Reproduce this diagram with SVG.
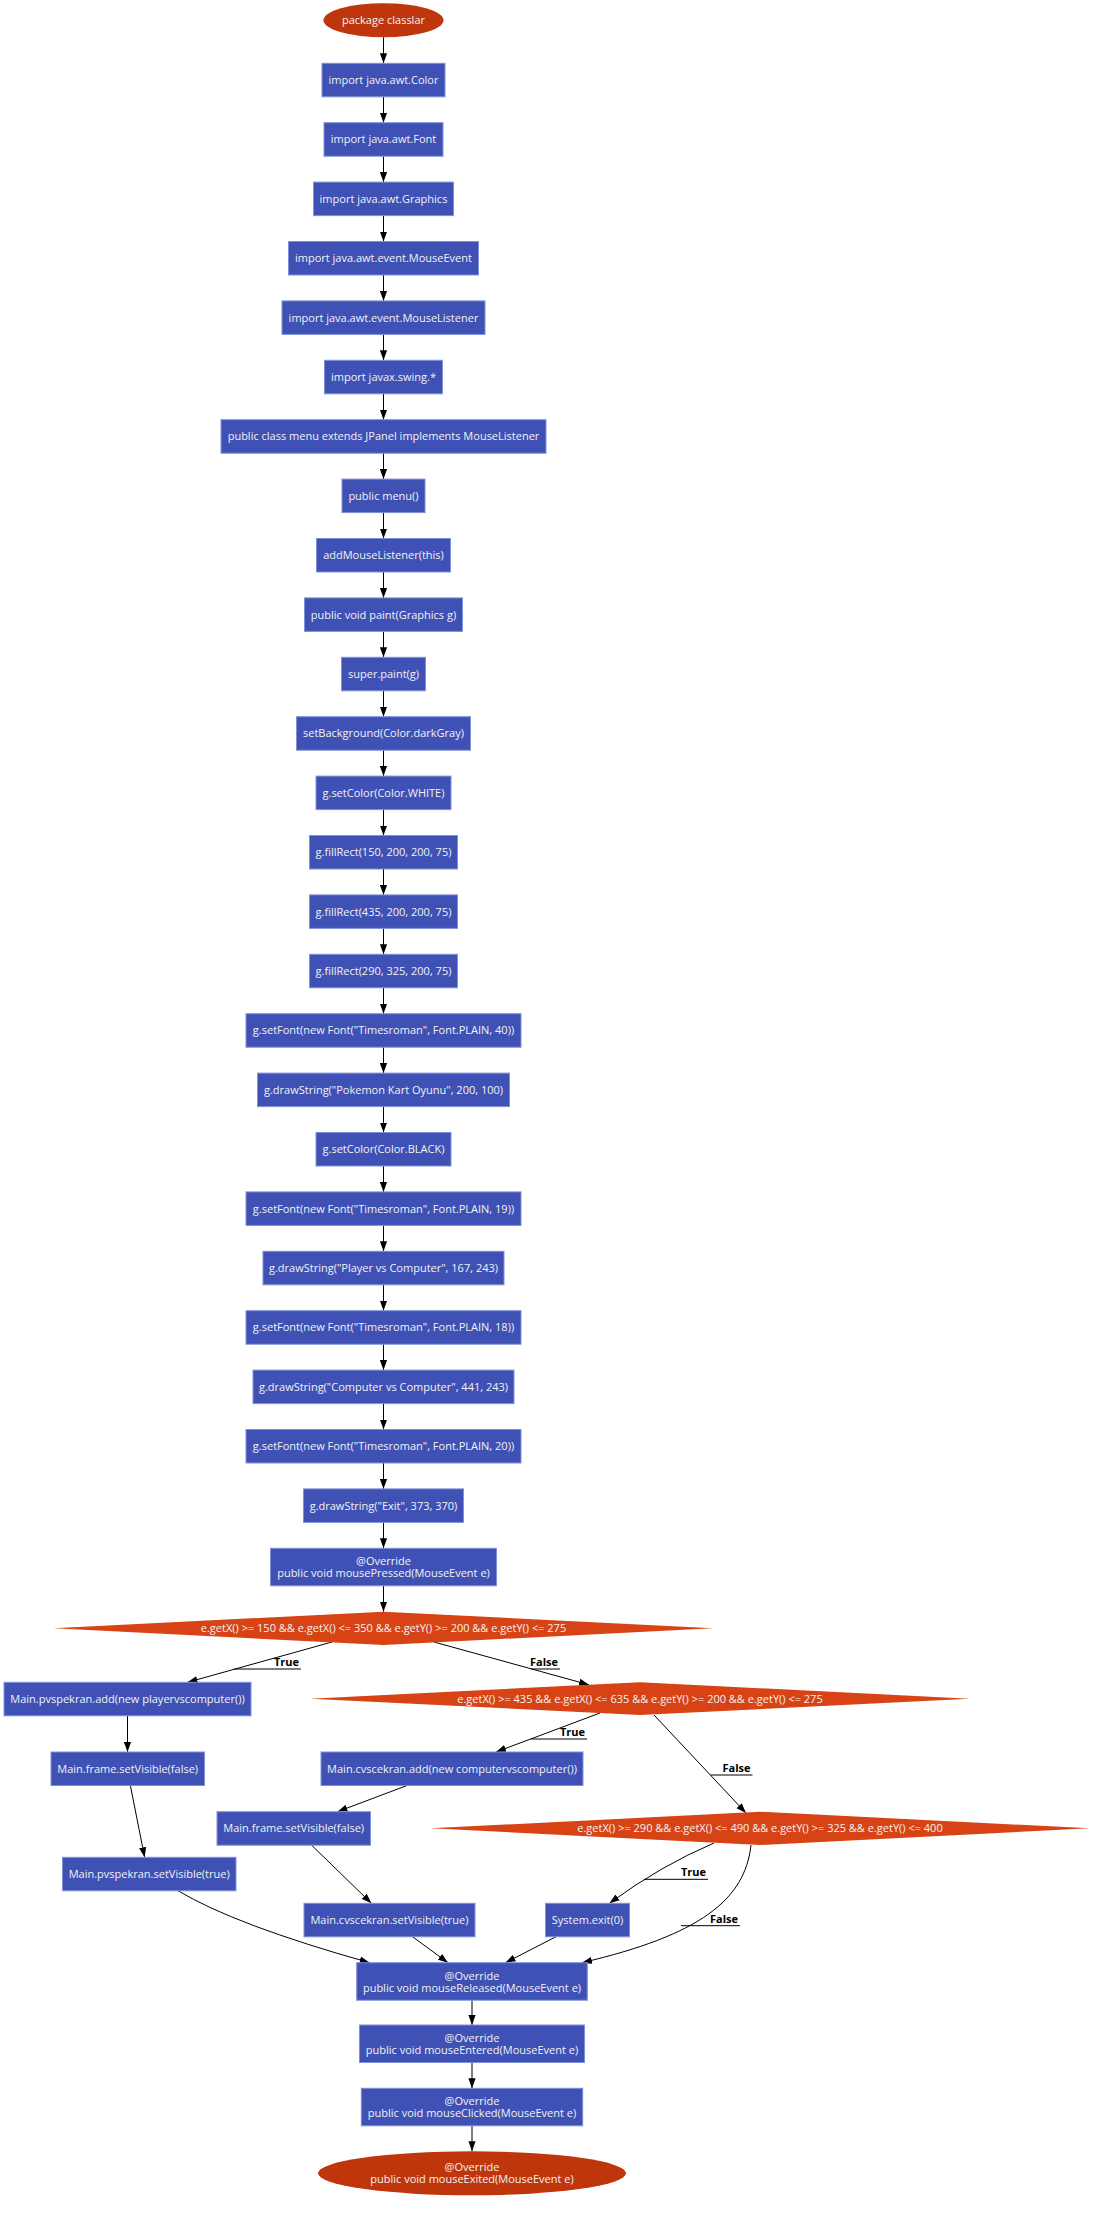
<svg xmlns="http://www.w3.org/2000/svg" width="1108" height="2214" viewBox="0 0 1108 2214">
<style>
.box{fill:#3F51B5;stroke:#8090d8;stroke-width:1}
.term{fill:#BF360C}
.dec{fill:#D84315}
.t{font-family:"Open Sans","Noto Sans",sans-serif;font-size:11px;fill:#f2f2f2;text-anchor:middle}
.lbl{font-family:"Open Sans","Noto Sans",sans-serif;font-size:11px;font-weight:bold;fill:#000;text-anchor:end}
.e{fill:none;stroke:#000;stroke-width:1}
.u{fill:none;stroke:#000;stroke-width:1}
</style>
<defs>
<marker id="arr" markerUnits="userSpaceOnUse" markerWidth="10" markerHeight="8" refX="10" refY="4" orient="auto">
<path d="M0,0.4 L10,4 L0,7.6 z" fill="#000"/>
</marker>
</defs>
<rect width="1108" height="2214" fill="#fff"/>
<g id="connectors">
<path class="e" marker-end="url(#arr)" d="M383.5,37.3 V63.3"/>
<path class="e" marker-end="url(#arr)" d="M383.5,96.8 V122.7"/>
<path class="e" marker-end="url(#arr)" d="M383.5,156.2 V182.1"/>
<path class="e" marker-end="url(#arr)" d="M383.5,215.6 V241.5"/>
<path class="e" marker-end="url(#arr)" d="M383.5,275 V300.9"/>
<path class="e" marker-end="url(#arr)" d="M383.5,334.4 V360.3"/>
<path class="e" marker-end="url(#arr)" d="M383.5,393.8 V419.7"/>
<path class="e" marker-end="url(#arr)" d="M383.5,453.2 V479.1"/>
<path class="e" marker-end="url(#arr)" d="M383.5,512.6 V538.5"/>
<path class="e" marker-end="url(#arr)" d="M383.5,572 V597.9"/>
<path class="e" marker-end="url(#arr)" d="M383.5,631.4 V657.3"/>
<path class="e" marker-end="url(#arr)" d="M383.5,690.8 V716.7"/>
<path class="e" marker-end="url(#arr)" d="M383.5,750.2 V776.1"/>
<path class="e" marker-end="url(#arr)" d="M383.5,809.6 V835.5"/>
<path class="e" marker-end="url(#arr)" d="M383.5,869 V894.9"/>
<path class="e" marker-end="url(#arr)" d="M383.5,928.4 V954.3"/>
<path class="e" marker-end="url(#arr)" d="M383.5,987.8 V1013.7"/>
<path class="e" marker-end="url(#arr)" d="M383.5,1047.2 V1073.1"/>
<path class="e" marker-end="url(#arr)" d="M383.5,1106.6 V1132.5"/>
<path class="e" marker-end="url(#arr)" d="M383.5,1166 V1191.9"/>
<path class="e" marker-end="url(#arr)" d="M383.5,1225.4 V1251.3"/>
<path class="e" marker-end="url(#arr)" d="M383.5,1284.8 V1310.7"/>
<path class="e" marker-end="url(#arr)" d="M383.5,1344.2 V1370.1"/>
<path class="e" marker-end="url(#arr)" d="M383.5,1403.6 V1429.5"/>
<path class="e" marker-end="url(#arr)" d="M383.5,1463 V1488.9"/>
<path class="e" marker-end="url(#arr)" d="M383.5,1522.4 V1548.3"/>
<path class="e" marker-end="url(#arr)" d="M383.5,1585.8 V1611.7"/>
<path class="e" marker-end="url(#arr)" d="M332,1642 L187.5,1682.3"/>
<path class="e" marker-end="url(#arr)" d="M434,1642 L589,1684.8"/>
<path class="e" marker-end="url(#arr)" d="M600,1713 L496,1752"/>
<path class="e" marker-end="url(#arr)" d="M654,1715 L746,1813"/>
<path class="e" marker-end="url(#arr)" d="M407,1785.5 L337.5,1811.7"/>
<path class="e" marker-end="url(#arr)" d="M127.5,1715.7 V1752"/>
<path class="e" marker-end="url(#arr)" d="M130.4,1785.5 L144.6,1857.3"/>
<path class="e" marker-end="url(#arr)" d="M311.4,1845 L371.4,1903.3"/>
<path class="e" marker-end="url(#arr)" d="M714,1843 Q660,1866 609.5,1903.3"/>
<path class="e" marker-end="url(#arr)" d="M751,1845 C745,1900 700,1935 582,1962.7"/>
<path class="e" marker-end="url(#arr)" d="M556,1936.7 L505.5,1962.7"/>
<path class="e" marker-end="url(#arr)" d="M412.5,1936.7 L448,1962.7"/>
<path class="e" marker-end="url(#arr)" d="M178,1890.7 Q235,1925 369.6,1962.7"/>
<path class="e" marker-end="url(#arr)" d="M472,2000.2 V2025"/>
<path class="e" marker-end="url(#arr)" d="M472,2062.5 V2088.3"/>
<path class="e" marker-end="url(#arr)" d="M472,2125.8 V2151.3"/>
<path class="u" d="M234,1669 H301"/><text class="lbl" x="299" y="1666">True</text>
<path class="u" d="M531,1669 H560"/><text class="lbl" x="558" y="1666">False</text>
<path class="u" d="M531,1739 H587"/><text class="lbl" x="585" y="1736">True</text>
<path class="u" d="M710.5,1775 H752.5"/><text class="lbl" x="750.5" y="1772">False</text>
<path class="u" d="M644,1879.3 H708"/><text class="lbl" x="706" y="1876">True</text>
<path class="u" d="M681,1925.7 H740"/><text class="lbl" x="738" y="1922.5">False</text>
</g>
<g id="n0"><ellipse class="term" cx="383.5" cy="20.3" rx="60" ry="17"/><text class="t" x="383.5" y="24.3">package classlar</text></g>
<g id="n1"><rect class="box" x="322" y="63.3" width="123" height="33.5"/><text class="t" x="383.5" y="84">import java.awt.Color</text></g>
<g id="n2"><rect class="box" x="324" y="122.7" width="119" height="33.5"/><text class="t" x="383.5" y="143.4">import java.awt.Font</text></g>
<g id="n3"><rect class="box" x="313.5" y="182.1" width="140" height="33.5"/><text class="t" x="383.5" y="202.8">import java.awt.Graphics</text></g>
<g id="n4"><rect class="box" x="288.5" y="241.5" width="190" height="33.5"/><text class="t" x="383.5" y="262.2">import java.awt.event.MouseEvent</text></g>
<g id="n5"><rect class="box" x="282" y="300.9" width="203" height="33.5"/><text class="t" x="383.5" y="321.6">import java.awt.event.MouseListener</text></g>
<g id="n6"><rect class="box" x="324.5" y="360.3" width="118" height="33.5"/><text class="t" x="383.5" y="381">import javax.swing.*</text></g>
<g id="n7"><rect class="box" x="221" y="419.7" width="325" height="33.5"/><text class="t" x="383.5" y="440.4">public class menu extends JPanel implements MouseListener</text></g>
<g id="n8"><rect class="box" x="342" y="479.1" width="83" height="33.5"/><text class="t" x="383.5" y="499.8">public menu()</text></g>
<g id="n9"><rect class="box" x="316.5" y="538.5" width="134" height="33.5"/><text class="t" x="383.5" y="559.2">addMouseListener(this)</text></g>
<g id="n10"><rect class="box" x="304.5" y="597.9" width="158" height="33.5"/><text class="t" x="383.5" y="618.6">public void paint(Graphics g)</text></g>
<g id="n11"><rect class="box" x="341.5" y="657.3" width="84" height="33.5"/><text class="t" x="383.5" y="678">super.paint(g)</text></g>
<g id="n12"><rect class="box" x="296.5" y="716.7" width="174" height="33.5"/><text class="t" x="383.5" y="737.4">setBackground(Color.darkGray)</text></g>
<g id="n13"><rect class="box" x="316" y="776.1" width="135" height="33.5"/><text class="t" x="383.5" y="796.8">g.setColor(Color.WHITE)</text></g>
<g id="n14"><rect class="box" x="309.5" y="835.5" width="148" height="33.5"/><text class="t" x="383.5" y="856.2">g.fillRect(150, 200, 200, 75)</text></g>
<g id="n15"><rect class="box" x="309.5" y="894.9" width="148" height="33.5"/><text class="t" x="383.5" y="915.6">g.fillRect(435, 200, 200, 75)</text></g>
<g id="n16"><rect class="box" x="309.5" y="954.3" width="148" height="33.5"/><text class="t" x="383.5" y="975">g.fillRect(290, 325, 200, 75)</text></g>
<g id="n17"><rect class="box" x="246" y="1013.7" width="275" height="33.5"/><text class="t" x="383.5" y="1034.4">g.setFont(new Font("Timesroman", Font.PLAIN, 40))</text></g>
<g id="n18"><rect class="box" x="257.5" y="1073.1" width="252" height="33.5"/><text class="t" x="383.5" y="1093.8">g.drawString("Pokemon Kart Oyunu", 200, 100)</text></g>
<g id="n19"><rect class="box" x="316" y="1132.5" width="135" height="33.5"/><text class="t" x="383.5" y="1153.2">g.setColor(Color.BLACK)</text></g>
<g id="n20"><rect class="box" x="246" y="1191.9" width="275" height="33.5"/><text class="t" x="383.5" y="1212.6">g.setFont(new Font("Timesroman", Font.PLAIN, 19))</text></g>
<g id="n21"><rect class="box" x="263" y="1251.3" width="241" height="33.5"/><text class="t" x="383.5" y="1272">g.drawString("Player vs Computer", 167, 243)</text></g>
<g id="n22"><rect class="box" x="246" y="1310.7" width="275" height="33.5"/><text class="t" x="383.5" y="1331.4">g.setFont(new Font("Timesroman", Font.PLAIN, 18))</text></g>
<g id="n23"><rect class="box" x="253" y="1370.1" width="261" height="33.5"/><text class="t" x="383.5" y="1390.8">g.drawString("Computer vs Computer", 441, 243)</text></g>
<g id="n24"><rect class="box" x="246" y="1429.5" width="275" height="33.5"/><text class="t" x="383.5" y="1450.2">g.setFont(new Font("Timesroman", Font.PLAIN, 20))</text></g>
<g id="n25"><rect class="box" x="303.5" y="1488.9" width="160" height="33.5"/><text class="t" x="383.5" y="1509.6">g.drawString("Exit", 373, 370)</text></g>
<g id="n26"><rect class="box" x="270.5" y="1548.3" width="226" height="37.5"/><text class="t" x="383.5" y="1565">@Override</text><text class="t" x="383.5" y="1577">public void mousePressed(MouseEvent e)</text></g>
<g id="d1"><polygon class="dec" points="53.7,1628.3 383.5,1611.7 713,1628.3 383.5,1645"/><text class="t" x="383.5" y="1632.3">e.getX() &gt;= 150 &amp;&amp; e.getX() &lt;= 350 &amp;&amp; e.getY() &gt;= 200 &amp;&amp; e.getY() &lt;= 275</text></g>
<g id="n27"><rect class="box" x="4" y="1682.3" width="247" height="33.5"/><text class="t" x="127.5" y="1703">Main.pvspekran.add(new playervscomputer())</text></g>
<g id="d2"><polygon class="dec" points="310,1698.7 640,1682.3 970,1698.7 640,1715"/><text class="t" x="640" y="1702.7">e.getX() &gt;= 435 &amp;&amp; e.getX() &lt;= 635 &amp;&amp; e.getY() &gt;= 200 &amp;&amp; e.getY() &lt;= 275</text></g>
<g id="n28"><rect class="box" x="51" y="1752" width="153.5" height="33.5"/><text class="t" x="127.7" y="1772.7">Main.frame.setVisible(false)</text></g>
<g id="n29"><rect class="box" x="321" y="1752" width="262" height="33.5"/><text class="t" x="452" y="1772.7">Main.cvscekran.add(new computervscomputer())</text></g>
<g id="n30"><rect class="box" x="217" y="1811.7" width="153.5" height="33.5"/><text class="t" x="293.7" y="1832.4">Main.frame.setVisible(false)</text></g>
<g id="d3"><polygon class="dec" points="430.3,1828.3 760,1811.7 1089.7,1828.3 760,1845"/><text class="t" x="760" y="1832.3">e.getX() &gt;= 290 &amp;&amp; e.getX() &lt;= 490 &amp;&amp; e.getY() &gt;= 325 &amp;&amp; e.getY() &lt;= 400</text></g>
<g id="n31"><rect class="box" x="62.5" y="1857.3" width="173.5" height="33.5"/><text class="t" x="149.2" y="1878">Main.pvspekran.setVisible(true)</text></g>
<g id="n32"><rect class="box" x="304" y="1903.3" width="171" height="33.5"/><text class="t" x="389.5" y="1924">Main.cvscekran.setVisible(true)</text></g>
<g id="n33"><rect class="box" x="545.5" y="1903.3" width="84" height="33.5"/><text class="t" x="587.5" y="1924">System.exit(0)</text></g>
<g id="n34"><rect class="box" x="356.7" y="1962.7" width="230.6" height="37.5"/><text class="t" x="472" y="1979.5">@Override</text><text class="t" x="472" y="1991.5">public void mouseReleased(MouseEvent e)</text></g>
<g id="n35"><rect class="box" x="359.5" y="2025" width="225" height="37.5"/><text class="t" x="472" y="2041.8">@Override</text><text class="t" x="472" y="2053.8">public void mouseEntered(MouseEvent e)</text></g>
<g id="n36"><rect class="box" x="361.3" y="2088.3" width="221.4" height="37.5"/><text class="t" x="472" y="2105">@Override</text><text class="t" x="472" y="2117">public void mouseClicked(MouseEvent e)</text></g>
<g id="n37"><ellipse class="term" cx="472" cy="2173.3" rx="154" ry="22"/><text class="t" x="472" y="2171.3">@Override</text><text class="t" x="472" y="2183.3">public void mouseExited(MouseEvent e)</text></g>
</svg>
